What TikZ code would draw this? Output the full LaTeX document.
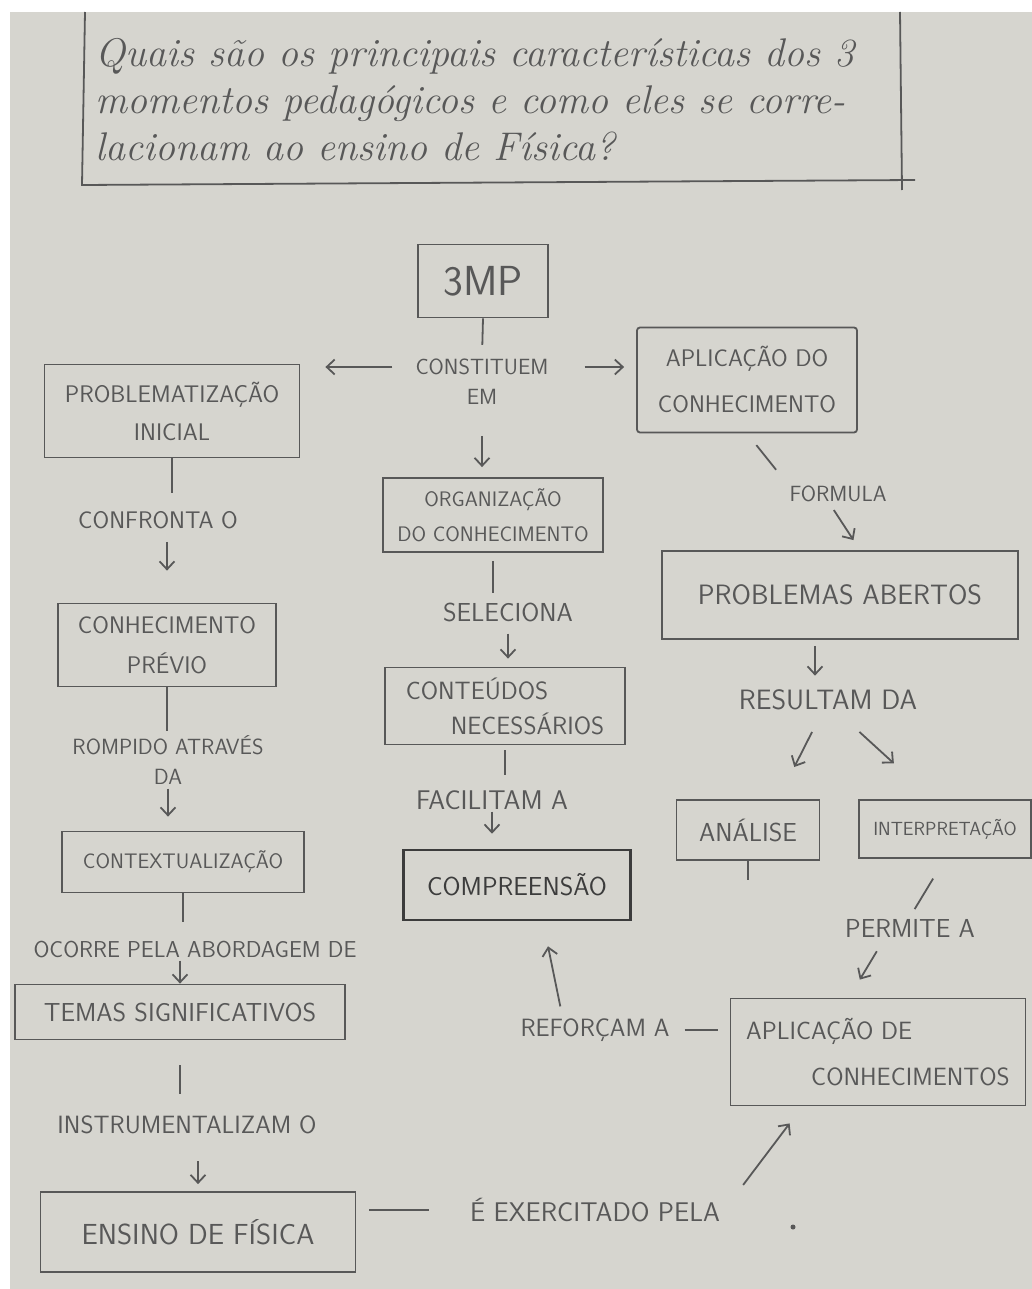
\documentclass[tikz,border=0pt]{standalone}
\usepackage{tikz}
\usetikzlibrary{positioning, arrows.meta}
\definecolor{paper}{HTML}{D6D5CF}
\definecolor{pencil}{HTML}{585858}
\definecolor{darkpencil}{HTML}{3C3C3C}
\newcommand{\hand}[2]{\sffamily\fontsize{#1}{#2}\selectfont}

\begin{document}
\begin{tikzpicture}[x=1pt, y=-1pt, >={Straight Barb[length=8pt, width=15pt]},
    box/.style={draw=pencil, line width=1.8pt, inner sep=4pt, align=center, text=pencil, font=\hand{25}{38}},
    lbl/.style={inner sep=2pt, align=center, text=pencil, font=\hand{24}{30}},
    line/.style={draw=pencil, line width=1.8pt},
    arr/.style={line, ->}]
    % Paper
    \useasboundingbox (0,0) rectangle (1032,1289);
    \fill[white] (0,0) rectangle (1032,1289);
    \fill[paper] (10,12) rectangle (1032,1289);
    % Question frame
    \node[anchor=west, align=left, text=pencil, font=\itshape\fontsize{40}{47}\selectfont] (quest) at (92,100)
        {Quais são os principais características dos 3\\momentos pedagógicos e como eles se corre-\\lacionam ao ensino de Física?};
    \draw[line] (85,12) -- (82,185) -- (915,180);
    \draw[line] (900,12) -- (902,190);
    % Boxes
    \node[box, minimum width=130pt, minimum height=73pt, font=\hand{42}{42}] (mp) at (483,281) {3MP};
    \node[box, minimum width=255pt, minimum height=93pt, font=\hand{24}{38}] (prob) at (172,411) {PROBLEMATIZAÇÃO\\INICIAL};
    \node[box, minimum width=220pt, minimum height=105pt, rounded corners=3pt, font=\hand{24}{46}] (aplic) at (747,380) {APLICAÇÃO DO\\CONHECIMENTO};
    \node[box, minimum width=220pt, minimum height=74pt, font=\hand{21}{35}] (org) at (493,515) {ORGANIZAÇÃO\\DO CONHECIMENTO};
    \node[box, minimum width=218pt, minimum height=83pt, font=\hand{24}{40}] (prev) at (167,645) {CONHECIMENTO\\PRÉVIO};
    \node[box, minimum width=240pt, minimum height=77pt, align=left, font=\hand{25}{35}] (cont) at (505,706) {CONTEÚDOS\\\hspace*{1.8em}NECESSÁRIOS};
    \node[box, minimum width=242pt, minimum height=61pt, font=\hand{21}{30}] (ctx) at (183,862) {CONTEXTUALIZAÇÃO};
    \node[box, minimum width=227pt, minimum height=70pt, draw=darkpencil, line width=2.6pt, text=darkpencil, font=\hand{26}{30}] (comp) at (517,885) {COMPREENSÃO};
    \node[box, minimum width=330pt, minimum height=55pt, font=\hand{26}{30}] (temas) at (180,1012) {TEMAS SIGNIFICATIVOS};
    \node[box, minimum width=315pt, minimum height=80pt, font=\hand{29}{30}] (ensino) at (198,1232) {ENSINO DE FÍSICA};
    \node[box, minimum width=356pt, minimum height=88pt, font=\hand{28}{30}] (abertos) at (840,595) {PROBLEMAS ABERTOS};
    \node[box, minimum width=143pt, minimum height=60pt, font=\hand{26}{30}] (anal) at (748,830) {ANÁLISE};
    \node[box, minimum width=172pt, minimum height=58pt, font=\hand{19}{30}] (interp) at (945,829) {INTERPRETAÇÃO};
    \node[box, minimum width=295pt, minimum height=107pt, align=left, font=\hand{25}{46}] (aplictwo) at (878,1052) {APLICAÇÃO DE\\\hspace*{2.6em}CONHECIMENTOS};
    % Linking words
    \node[lbl, font=\hand{22}{30}] (cons) at (482,367) {CONSTITUEM};
    \node[lbl, font=\hand{22}{30}] (consem) at (482,397) {EM};
    \node[lbl, font=\hand{24}{30}] (confronta) at (158,520) {CONFRONTA O};
    \node[lbl, font=\hand{22}{30}] (rompido) at (168,760) {ROMPIDO ATRAVÉS\\DA};
    \node[lbl, font=\hand{23}{30}] (ocorre) at (195,950) {OCORRE PELA ABORDAGEM DE};
    \node[lbl, font=\hand{25}{30}] (instr) at (187,1125) {INSTRUMENTALIZAM O};
    \node[lbl, font=\hand{27}{30}] (exerc) at (595,1210) {É EXERCITADO PELA};
    \node[lbl, font=\hand{26}{30}] (selec) at (508,612) {SELECIONA};
    \node[lbl, font=\hand{27}{30}] (facil) at (492,800) {FACILITAM A};
    \node[lbl, font=\hand{25}{30}] (refor) at (595,1030) {REFORÇAM A};
    \node[lbl, font=\hand{22}{30}] (formula) at (838,494) {FORMULA};
    \node[lbl, font=\hand{28}{30}] (result) at (828,700) {RESULTAM DA};
    \node[lbl, font=\hand{26}{30}] (permite) at (910,928) {PERMITE A};
    % Central column
    \draw[line, shorten >=12pt] (mp.south) -- (cons.north);
    \draw[arr, shorten <=21pt, shorten >=25pt] (cons.west) -- (cons.west -| prob.east);
    \draw[arr, shorten <=34pt, shorten >=12pt] (cons.east) -- (cons.east -| aplic.west);
    \draw[arr, shorten <=29pt, shorten >=10pt] (consem.south) -- (consem.south |- org.north);
    \draw[line, shorten <=8pt, shorten >=7pt] (org.south) -- (org.south |- selec.north);
    \draw[arr, shorten <=10pt, shorten >=8pt] (selec.south) -- (selec.south |- cont.north);
    \draw[line, shorten <=5pt, shorten >=13pt] (cont.south) -- (cont.south |- facil.north);
    \draw[arr, shorten >=15pt] (facil.south) -- (facil.south |- comp.north);
    \draw[arr] ([xshift=42pt, yshift=10pt]refor.north west) -- ([xshift=31pt, yshift=-25pt]comp.south);
    \draw[line, shorten <=13pt, shorten >=12pt] (refor.east) -- (refor.east -| aplictwo.west);
    % Left column
    \draw[line, shorten >=16pt] (prob.south) -- (prob.south |- confronta.north);
    \draw[arr, shorten <=11pt, shorten >=32pt] (confronta.south -| prev.north) -- (prev.north);
    \draw[line, shorten >=2pt] (prev.south) -- (prev.south |- rompido.north);
    \draw[arr, shorten <=2pt, shorten >=14pt] (rompido.south) -- (rompido.south |- ctx.north);
    \draw[line, shorten >=17pt] (ctx.south) -- (ctx.south |- ocorre.north);
    \draw[arr] (ocorre.south -| temas.north) -- (temas.north);
    \draw[line, shorten <=25pt, shorten >=20pt] (temas.south) -- (temas.south |- instr.north);
    \draw[arr, shorten <=25pt, shorten >=7pt] (instr.south -| ensino.north) -- (ensino.north);
    \draw[line, shorten <=13pt, shorten >=39pt] (ensino.east |- exerc.west) -- (exerc.west);
    \draw[arr] ([xshift=21pt, yshift=11pt]exerc.north east) -- ([xshift=60pt, yshift=-17pt]aplictwo.south west);
    % Right column
    \draw[line, shorten <=15pt, shorten >=18pt] (aplic.south) -- (formula.north west);
    \draw[arr, shorten <=7pt, shorten >=12pt] ([xshift=-8pt]formula.south) -- ([xshift=20pt]abertos.north);
    \draw[arr, shorten <=6pt, shorten >=12pt] ([xshift=-25pt]abertos.south) -- ([xshift=-13pt]result.north);
    \draw[arr, shorten <=22pt, shorten >=36pt] ([xshift=-6pt]result.south) -- ([xshift=30pt]anal.north);
    \draw[arr, shorten <=29pt, shorten >=53pt] ([xshift=10pt]result.south) -- ([xshift=-12pt]interp.north);
    \coordinate (analtick) at (745,880);
    \draw[line] (anal.south) -- (anal.south |- analtick);
    \draw[line, shorten <=23pt, shorten >=9pt] (interp.south) -- (permite.north);
    \draw[arr, shorten <=14pt, shorten >=21pt] ([xshift=-26pt]permite.south) -- ([xshift=-29pt]aplictwo.north);
    % Stray pencil dot
    \fill[pencil] (793,1227) circle (2.5pt);
\end{tikzpicture}
\end{document}
